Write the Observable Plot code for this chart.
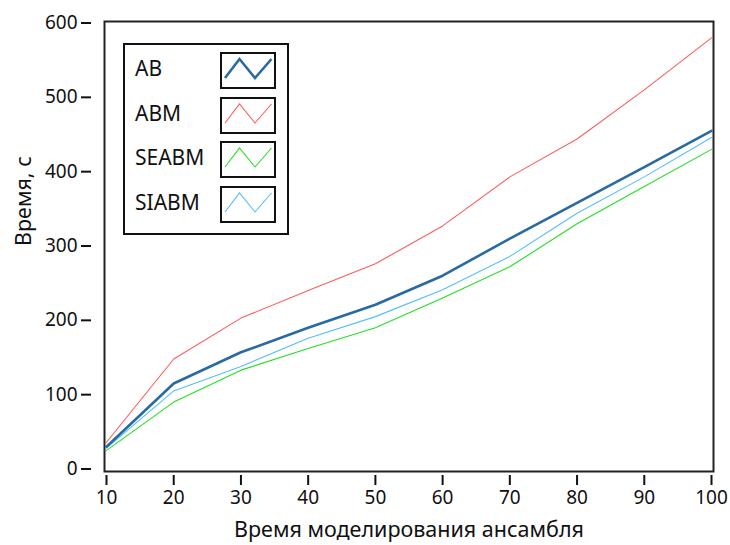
<!DOCTYPE html>
<html>
<head>
<meta charset="utf-8">
<script src="https://cdn.jsdelivr.net/npm/d3@7"></script>
<script src="https://cdn.jsdelivr.net/npm/@observablehq/plot@0.6"></script>
<style>
  html, body { margin: 0; padding: 0; background: #fff; }
  #wrap { position: relative; width: 730px; height: 545px; font-family: "Noto Sans", "Open Sans", sans-serif; }
  #legend { position: absolute; left: 123px; top: 43px; width: 162px; height: 188px; border: 2px solid #111; background: #fff; box-sizing: content-box; }
  .item { position: absolute; left: 0; width: 162px; height: 36px; }
  .item span { position: absolute; left: 10px; top: 3px; font-size: 21px; color: #111; line-height: 26px; }
  .item svg { position: absolute; left: 95px; top: 0; }
</style>
</head>
<body>
<div id="wrap"></div>
<script>
const xValues = [10, 20, 30, 40, 50, 60, 70, 80, 90, 100];
const seriesNames = ["AB", "ABM", "SEABM", "SIABM"];
const AB    = [30, 115, 157, 190, 221, 260, 310, 358, 406, 455];
const ABM   = [36, 148, 203, 240, 276, 327, 393, 444, 510, 580];
const SEABM = [25, 90, 133, 162, 190, 230, 272, 330, 380, 430];
const SIABM = [28, 105, 138, 176, 205, 241, 286, 344, 393, 446];
const yTicks = [0, 100, 200, 300, 400, 500, 600];
const xTicks = [10, 20, 30, 40, 50, 60, 70, 80, 90, 100];
const colors = {AB: "#2a6aa3", ABM: "#ff5c5c", SEABM: "#22e022", SIABM: "#56bdff"};
const widths = {AB: 2.6, ABM: 1.1, SEABM: 1.1, SIABM: 1.1};

const valuesBy = {AB, ABM, SEABM, SIABM};
const rows = seriesNames.flatMap(s => xValues.map((x, i) => ({series: s, x, y: valuesBy[s][i]})));
const drawOrder = ["ABM", "SEABM", "SIABM", "AB"];

const plot = Plot.plot({
  width: 730,
  height: 545,
  marginLeft: 106,
  marginRight: 19,
  marginTop: 22.5,
  marginBottom: 76.5,
  style: {fontFamily: "'Noto Sans', 'Open Sans', sans-serif", fontSize: "19px", color: "#111", background: "#fff"},
  x: {domain: [10, 100]},
  y: {domain: [0, 600]},
  marks: [
    Plot.frame({stroke: "#222", strokeWidth: 2, insetLeft: -2, insetRight: -2, insetTop: -1.5, insetBottom: -2.5}),
    ...drawOrder.map(s => Plot.line(rows.filter(d => d.series === s), {x: "x", y: "y", stroke: colors[s], strokeWidth: widths[s]})),
    Plot.axisY({ticks: yTicks, tickSize: 10, tickPadding: 4, dx: -15, strokeWidth: 2, stroke: "#111", fill: "#111", fontSize: 19, label: null}),
    Plot.axisX({ticks: xTicks, tickSize: 10, tickPadding: 5, dy: 6.5, strokeWidth: 2, stroke: "#111", fill: "#111", fontSize: 19, label: null, tickFormat: d => String(d)}),
    Plot.text(["Время моделирования ансамбля"], {frameAnchor: "bottom", dy: 61, fill: "#111", fontSize: 21.5, lineAnchor: "middle"}),
    Plot.text(["Время, с"], {frameAnchor: "left", dx: -82, rotate: -90, fill: "#111", fontSize: 21.5, lineAnchor: "middle"})
  ]
});
const wrap = document.getElementById("wrap");
wrap.appendChild(plot);

const legend = document.createElement("div");
legend.id = "legend";
seriesNames.forEach((s, i) => {
  const item = document.createElement("div");
  item.className = "item";
  item.style.top = (7 + i * 44.7) + "px";
  item.innerHTML = `<span>${s}</span><svg width="56" height="37"><rect x="1" y="1" width="54" height="35" fill="#fff" stroke="#111" stroke-width="2"/><polyline points="5,26 19.5,7 35,26 51.5,7" fill="none" stroke="${colors[s]}" stroke-width="${widths[s]}"/></svg>`;
  legend.appendChild(item);
});
wrap.appendChild(legend);
</script>
</body>
</html>
